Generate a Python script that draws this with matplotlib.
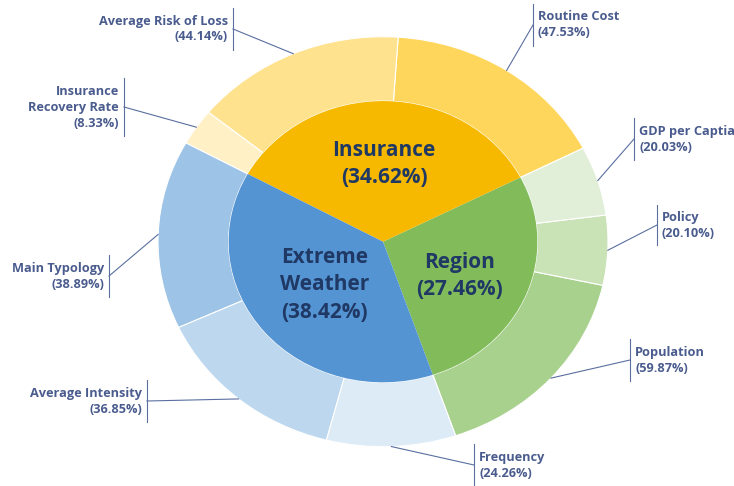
import matplotlib
matplotlib.use("Agg")
import matplotlib.pyplot as plt
import numpy as np

# ---------------- data ----------------
groups = ["Region", "Insurance", "Extreme\nWeather"]
group_share = [27.46, 34.62, 38.42]

# children listed counter-clockwise within each group
children = [
    ["Population", "Policy", "GDP per Captia"],
    ["Routine Cost", "Average Risk of Loss", "Insurance\nRecovery Rate"],
    ["Main Typology", "Average Intensity", "Frequency"],
]
child_share = [
    [59.87, 20.10, 20.03],
    [47.53, 44.14, 8.33],
    [38.89, 36.85, 24.26],
]

# ---------------- style ----------------
inner_colors = ["#82BC5A", "#F6B900", "#5594D3"]
outer_colors = [
    ["#A9D18E", "#C9E2B6", "#E1EFD8"],
    ["#FFD65C", "#FFE28E", "#FFF0C6"],
    ["#9DC3E6", "#BDD7EE", "#DDEBF7"],
]
text_dark = "#1F3864"
label_col = "#4A5C8E"
line_col = "#5A6FA0"
plt.rcParams["font.family"] = ["Open Sans", "DejaVu Sans"]

W, H = 734, 486
cx_px, cy_px = 383, 241.7
rx_px, ry_px = 225, 205
r_in = 0.686
start = 90 - group_share[1] / 2 * 3.6 - group_share[0] * 3.6

fig = plt.figure(figsize=(W / 100, H / 100), dpi=100)
ax = fig.add_axes([0, 0, 1, 1])

outer_vals = []
outer_cols = []
for gs, cs, cc in zip(group_share, child_share, outer_colors):
    for v, c in zip(cs, cc):
        outer_vals.append(gs * v / 100.0)
        outer_cols.append(c)

ow, _ = ax.pie(outer_vals, radius=1.0, colors=outer_cols, startangle=start,
               counterclock=True,
               wedgeprops=dict(width=1 - r_in, edgecolor="white", linewidth=0.8))
iw, _ = ax.pie(group_share, radius=r_in, colors=inner_colors, startangle=start,
               counterclock=True,
               wedgeprops=dict(edgecolor="none", linewidth=0))

ax.set_aspect("auto")
ax.set_xlim(-cx_px / rx_px, (W - cx_px) / rx_px)
ax.set_ylim(-(H - cy_px) / ry_px, cy_px / ry_px)
ax.axis("off")

# inner labels: (radius, angle offset in degrees)
inner_pos = [(0.38, -4), (0.38, 0), (0.335, -1)]
for w, name, val, (rr, dth) in zip(iw, groups, group_share, inner_pos):
    a = np.deg2rad((w.theta1 + w.theta2) / 2 + dth)
    ax.text(rr * np.cos(a), rr * np.sin(a), f"{name}\n({val:.2f}%)",
            ha="center", va="center", fontsize=15, fontweight="bold",
            color=text_dark, linespacing=1.4)


def px(x, y):
    return (x - cx_px) / rx_px, (cy_px - y) / ry_px


# outer label layout: (bar x, text center y, half bar height, side) in pixels
layout = {
    "Population": (630, 360, 21, "r"),
    "Policy": (657, 225, 20, "r"),
    "GDP per Captia": (634, 139, 21, "r"),
    "Routine Cost": (533, 25, 21, "r"),
    "Average Risk of Loss": (233, 29, 21, "l"),
    "Insurance\nRecovery Rate": (124, 107, 29, "l"),
    "Main Typology": (109, 276, 21, "l"),
    "Average Intensity": (147, 401, 21, "l"),
    "Frequency": (474, 465, 21, "r"),
}

flat_names = [n for grp in children for n in grp]
flat_vals = [v for grp in child_share for v in grp]
for w, name, val in zip(ow, flat_names, flat_vals):
    bx, by, hh, side = layout[name]
    a = np.deg2rad((w.theta1 + w.theta2) / 2)
    ex, ey = np.cos(a), np.sin(a)
    jx, jy = px(bx, by)
    ax.plot([ex, jx], [ey, jy], color=line_col, lw=0.8)
    x0, y0 = px(bx, by - hh)
    x1, y1 = px(bx, by + hh)
    ax.plot([x0, x1], [y0, y1], color=line_col, lw=0.8)
    if side == "r":
        tx, ty = px(bx + 5, by)
        ha = "left"
    else:
        tx, ty = px(bx - 5, by)
        ha = "right"
    ax.text(tx, ty, f"{name}\n({val:.2f}%)", ha=ha, va="center",
            fontsize=9.2, fontweight="bold", color=label_col,
            multialignment=ha, linespacing=1.3)

fig.savefig("out.png", dpi=100, facecolor="white")
